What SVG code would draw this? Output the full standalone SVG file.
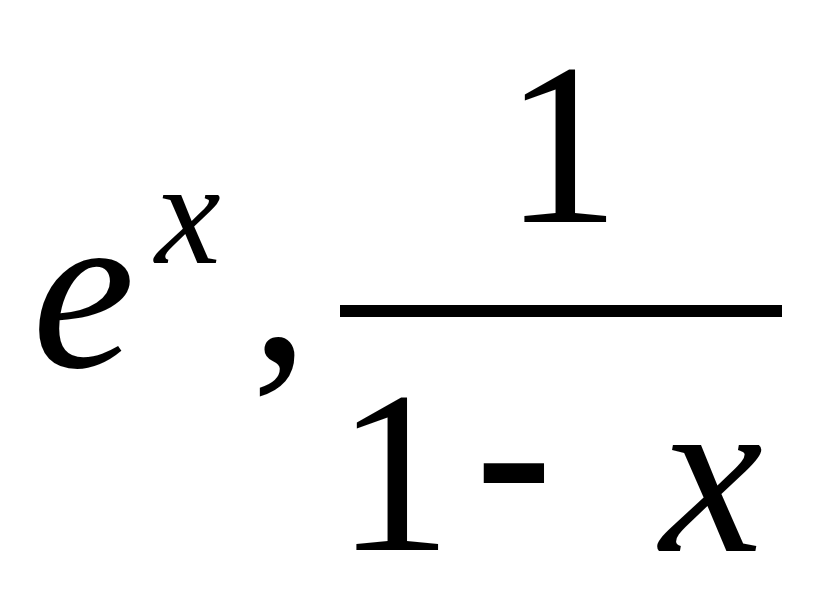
<svg xmlns="http://www.w3.org/2000/svg" width="833" height="600" viewBox="0 0 833 600">
<style>
.t{font-family:"Liberation Serif","Times New Roman",serif;fill:#000}
.i{font-style:italic}
</style>
<rect width="833" height="600" fill="#fff"/>
<g id="exp">
<text class="t i" x="32" y="367" font-size="232">e</text>
<text class="t i" x="155" y="263" font-size="148">x</text>
</g>
<g id="comma">
<text class="t" x="251" y="361" font-size="232">,</text>
</g>
<g id="fraction">
<text class="t" x="562" y="222" font-size="232" text-anchor="middle">1</text>
<rect x="340" y="305" width="442" height="12"/>
<text class="t" x="394" y="550" font-size="232" text-anchor="middle">1</text>
<text class="t" x="514" y="528" font-size="232" font-weight="bold" text-anchor="middle">-</text>
<text class="t i" x="660" y="551" font-size="232">x</text>
</g>
</svg>
